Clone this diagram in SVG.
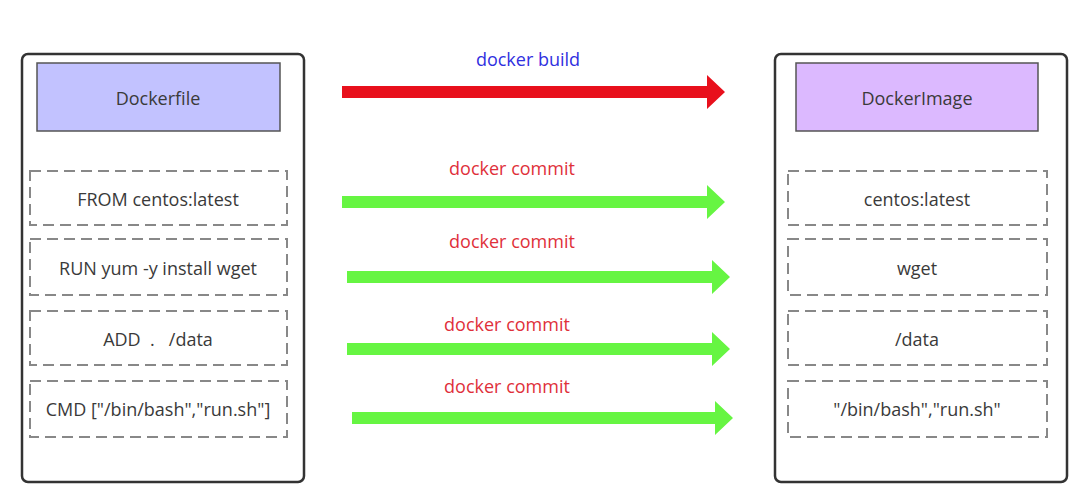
<svg xmlns="http://www.w3.org/2000/svg" width="1088" height="498" viewBox="0 0 1088 498">
<style>
.outer{fill:#fff;stroke:#333;stroke-width:2.5}
.hdr1{fill:#c2c2ff;stroke:#555;stroke-width:1.5}
.hdr2{fill:#dcb9ff;stroke:#555;stroke-width:1.5}
.dash{fill:#fff;stroke:#888;stroke-width:2;stroke-dasharray:11 6}
.t{font-family:"Open Sans","Noto Sans",sans-serif;font-size:18px;fill:#3a3a3a;text-anchor:middle}
.lbl{font-family:"Open Sans","Noto Sans",sans-serif;font-size:18px;text-anchor:middle}
.red{fill:#e0303a}
.blue{fill:#3030e0}
</style>
<rect width="1088" height="498" fill="#fff"/>
<g id="dockerfile">
<rect class="outer" x="22" y="54" width="282" height="428" rx="6"/>
<rect class="hdr1" x="37" y="63" width="243" height="68"/>
<text class="t" x="158" y="105">Dockerfile</text>
</g>
<g id="df-from"><rect class="dash" x="30" y="171" width="257" height="54"/><text class="t" x="158" y="206">FROM centos:latest</text></g>
<g id="df-run"><rect class="dash" x="30" y="239" width="257" height="56"/><text class="t" x="158" y="275">RUN yum -y install wget</text></g>
<g id="df-add"><rect class="dash" x="30" y="311" width="257" height="54"/><text class="t" x="158" y="346" xml:space="preserve">ADD  .   /data</text></g>
<g id="df-cmd"><rect class="dash" x="30" y="381" width="257" height="56"/><text class="t" x="158" y="416">CMD ["/bin/bash","run.sh"]</text></g>
<g id="dockerimage">
<rect class="outer" x="775" y="54" width="292" height="428" rx="6"/>
<rect class="hdr2" x="796" y="63" width="242" height="68"/>
<text class="t" x="917" y="105">DockerImage</text>
</g>
<g id="di-centos"><rect class="dash" x="788" y="171" width="259" height="54"/><text class="t" x="917" y="206">centos:latest</text></g>
<g id="di-wget"><rect class="dash" x="788" y="239" width="259" height="56"/><text class="t" x="917" y="275">wget</text></g>
<g id="di-data"><rect class="dash" x="788" y="311" width="259" height="54"/><text class="t" x="917" y="346">/data</text></g>
<g id="di-cmd"><rect class="dash" x="788" y="381" width="259" height="56"/><text class="t" x="917" y="416">"/bin/bash","run.sh"</text></g>
<g id="connectors">
<path fill="#e8101c" d="M342,86 H707 V75 L725,92 L707,109 V98 H342 Z"/>
<text class="lbl blue" x="528" y="66">docker build</text>
<path fill="#66f542" d="M342,196 H707 V185 L725,202 L707,219 V208 H342 Z"/>
<text class="lbl red" x="512" y="175">docker commit</text>
<path fill="#66f542" d="M347,271 H712 V260 L730,277 L712,294 V283 H347 Z"/>
<text class="lbl red" x="512" y="248">docker commit</text>
<path fill="#66f542" d="M347,343 H712 V332 L730,349 L712,366 V355 H347 Z"/>
<text class="lbl red" x="507" y="331">docker commit</text>
<path fill="#66f542" d="M352,412 H715 V401 L733,418 L715,435 V424 H352 Z"/>
<text class="lbl red" x="507" y="393">docker commit</text>
</g>
</svg>
